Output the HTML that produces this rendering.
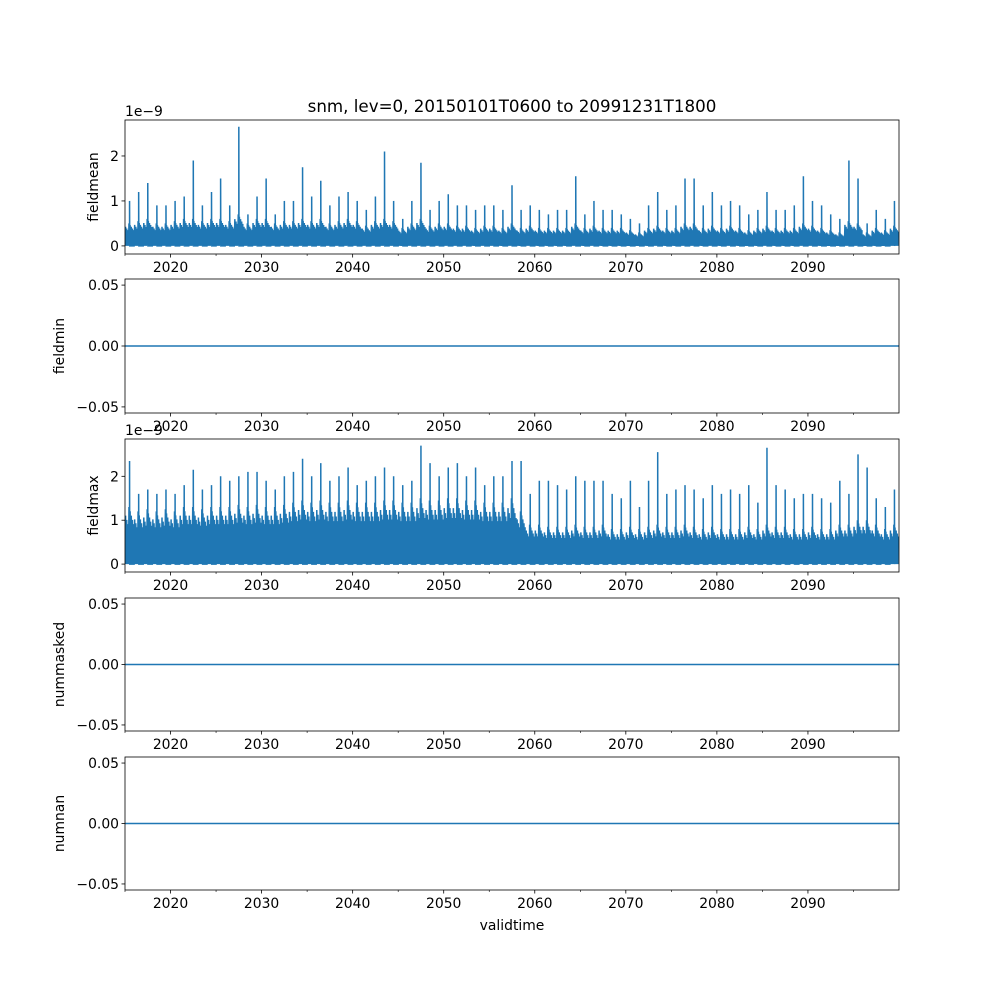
<!DOCTYPE html>
<html><head><meta charset="utf-8"><style>
body{margin:0;background:#fff}
svg text{font-family:"DejaVu Sans","Liberation Sans",sans-serif;font-size:13.9px;fill:#000}
</style></head><body>
<svg id="fig" width="1000" height="1000" xmlns="http://www.w3.org/2000/svg">
<rect width="1000" height="1000" fill="#fff"/>
<text x="512" y="112" text-anchor="middle" style="font-size:16.7px">snm, lev=0, 20150101T0600 to 20991231T1800</text>
<text x="512" y="930" text-anchor="middle">validtime</text>
</svg>
<script>
const years=[];for(let y=2015;y<=2099;y++)years.push(y);
const xTicks=[2020,2030,2040,2050,2060,2070,2080,2090];
const meanPeaks=[1.0,1.2,1.4,0.9,0.9,1.0,1.1,1.9,0.9,1.2,1.5,0.9,2.65,0.7,1.1,1.5,0.7,1.0,1.0,1.75,1.1,1.45,0.9,1.1,1.2,1.0,0.8,1.1,2.1,1.0,0.6,1.0,1.85,0.8,1.0,1.15,0.9,0.9,0.8,0.9,0.9,0.8,1.35,0.8,0.9,0.8,0.7,0.8,0.8,1.55,0.7,1.0,0.8,0.8,0.7,0.6,0.5,0.9,1.2,0.8,0.9,1.5,1.5,0.9,1.2,0.9,1.0,0.9,0.7,0.8,1.2,0.8,0.8,0.9,1.55,1.0,0.9,0.7,0.6,1.9,1.5,0.5,0.8,0.6,1.0];
const meanBase=[0.5,0.55,0.6,0.5,0.5,0.55,0.6,0.6,0.55,0.6,0.6,0.55,0.7,0.5,0.6,0.6,0.5,0.55,0.55,0.6,0.55,0.6,0.5,0.55,0.6,0.55,0.45,0.55,0.6,0.55,0.4,0.5,0.6,0.45,0.5,0.5,0.45,0.45,0.4,0.45,0.45,0.4,0.5,0.4,0.45,0.4,0.4,0.4,0.4,0.5,0.4,0.45,0.4,0.4,0.4,0.35,0.3,0.4,0.45,0.4,0.4,0.5,0.5,0.4,0.45,0.4,0.45,0.4,0.35,0.4,0.45,0.4,0.4,0.4,0.5,0.45,0.4,0.35,0.3,0.55,0.5,0.3,0.4,0.35,0.45];
const maxPeaks=[2.35,1.6,1.7,1.6,1.7,1.6,1.8,2.15,1.7,1.8,2.0,1.9,2.0,2.1,2.1,1.9,1.7,2.0,2.1,2.4,2.0,2.3,1.9,2.0,2.2,1.8,1.9,2.0,2.2,2.0,1.8,1.9,2.7,2.3,2.0,2.2,2.3,2.0,2.2,1.8,2.0,2.0,2.35,2.35,1.6,1.9,1.9,1.8,1.7,2.0,1.9,1.9,1.9,1.6,1.5,1.9,1.3,1.9,2.55,1.6,1.7,1.8,1.7,1.5,1.8,1.6,1.7,1.6,1.8,1.4,2.65,1.8,1.7,1.5,1.6,1.6,1.5,1.4,1.9,1.6,2.5,2.2,1.5,1.3,1.7];
const maxBase=[1.3,1.2,1.25,1.2,1.25,1.2,1.3,1.3,1.25,1.3,1.3,1.3,1.35,1.3,1.35,1.3,1.3,1.35,1.4,1.45,1.4,1.45,1.4,1.4,1.45,1.4,1.4,1.4,1.45,1.45,1.4,1.4,1.5,1.45,1.45,1.5,1.5,1.45,1.45,1.4,1.4,1.4,1.5,1.2,0.9,0.9,0.85,0.85,0.85,0.9,0.85,0.85,0.9,0.8,0.8,0.85,0.8,0.85,0.9,0.85,0.85,0.9,0.85,0.8,0.85,0.8,0.8,0.8,0.85,0.8,0.9,0.85,0.85,0.8,0.8,0.85,0.8,0.8,0.9,0.9,1.0,1.0,0.9,0.8,0.9];
const NS="http://www.w3.org/2000/svg",svg=document.getElementById('fig');
const L=125,R=899,x0=2015,x1=2100;
const X=v=>L+(v-x0)/(x1-x0)*(R-L);
function el(t,a,p){const e=document.createElementNS(NS,t);for(const k in a)e.setAttribute(k,a[k]);(p||svg).appendChild(e);return e;}
const panels=[
 {name:'fieldmean',top:120,bot:254,min:-0.18,max:2.8,ticks:[0,1,2],lab:['0','1','2'],peaks:meanPeaks,base:meanBase,off:'1e−9',ylx:98},
 {name:'fieldmin',top:279,bot:413,min:-0.055,max:0.055,ticks:[-0.05,0,0.05],lab:['−0.05','0.00','0.05'],ylx:64},
 {name:'fieldmax',top:439,bot:572,min:-0.18,max:2.85,ticks:[0,1,2],lab:['0','1','2'],peaks:maxPeaks,base:maxBase,off:'1e−9',ylx:98},
 {name:'nummasked',top:598,bot:731,min:-0.055,max:0.055,ticks:[-0.05,0,0.05],lab:['−0.05','0.00','0.05'],ylx:64},
 {name:'numnan',top:757,bot:890,min:-0.055,max:0.055,ticks:[-0.05,0,0.05],lab:['−0.05','0.00','0.05'],ylx:64}];
panels.forEach(p=>{
 const Y=v=>p.bot-(v-p.min)/(p.max-p.min)*(p.bot-p.top);
 const g=el('g',{});
 
 
 const cp=el('clipPath',{id:'c'+p.name},g);el('rect',{x:L,y:p.top,width:R-L,height:p.bot-p.top},cp);
 const cg=el('g',{'clip-path':'url(#c'+p.name+')'},g);
 if(p.peaks){
  let pts=[];
  years.forEach((yr,i)=>{for(let k=0;k<16;k++){const v=k%2?p.base[i]*(0.7+0.3*((k*7)%5)/4):0;pts.push(X(yr+k/16)+','+Y(v));}
   pts.push(X(yr+0.5)+','+Y(0));pts.push(X(yr+0.5)+','+Y(p.peaks[i]));pts.push(X(yr+0.52)+','+Y(0));});
  const pl=el('polyline',{points:pts.join(' '),fill:'none',stroke:'#1f77b4','stroke-width':1.5},cg);
  
  
 }else{
  const ln=el('line',{x1:L,x2:R,y1:Y(0),y2:Y(0),stroke:'#1f77b4','stroke-width':1.5},cg);
  
  
 }
 const fr=el('rect',{x:L,y:p.top,width:R-L,height:p.bot-p.top,fill:'none',stroke:'#000','stroke-width':0.8},g);
 
 
 xTicks.forEach(t=>{el('line',{x1:X(t),x2:X(t),y1:p.bot,y2:p.bot+3.5,stroke:'#000','stroke-width':0.8},g);
  const tx=el('text',{x:X(t),y:p.bot+18,'text-anchor':'middle'},g);tx.textContent=t;
  
  });
 for(let m=2015;m<=2100;m+=5){if(m%10)el('line',{x1:X(m),x2:X(m),y1:p.bot,y2:p.bot+2,stroke:'#000','stroke-width':0.6},g);}
 p.ticks.forEach((t,i)=>{el('line',{x1:L-3.5,x2:L,y1:Y(t),y2:Y(t),stroke:'#000','stroke-width':0.8},g);
  const tx=el('text',{x:L-6,y:Y(t)+5,'text-anchor':'end'},g);tx.textContent=p.lab[i];
  
  });
 const yl=el('text',{x:p.ylx,y:(p.top+p.bot)/2,'text-anchor':'middle',transform:'rotate(-90 '+p.ylx+' '+(p.top+p.bot)/2+')'},g);yl.textContent=p.name;
 
 
 if(p.off){const o=el('text',{x:L,y:p.top-4},g);o.textContent=p.off;
  
  }
});
</script>
</body></html>
